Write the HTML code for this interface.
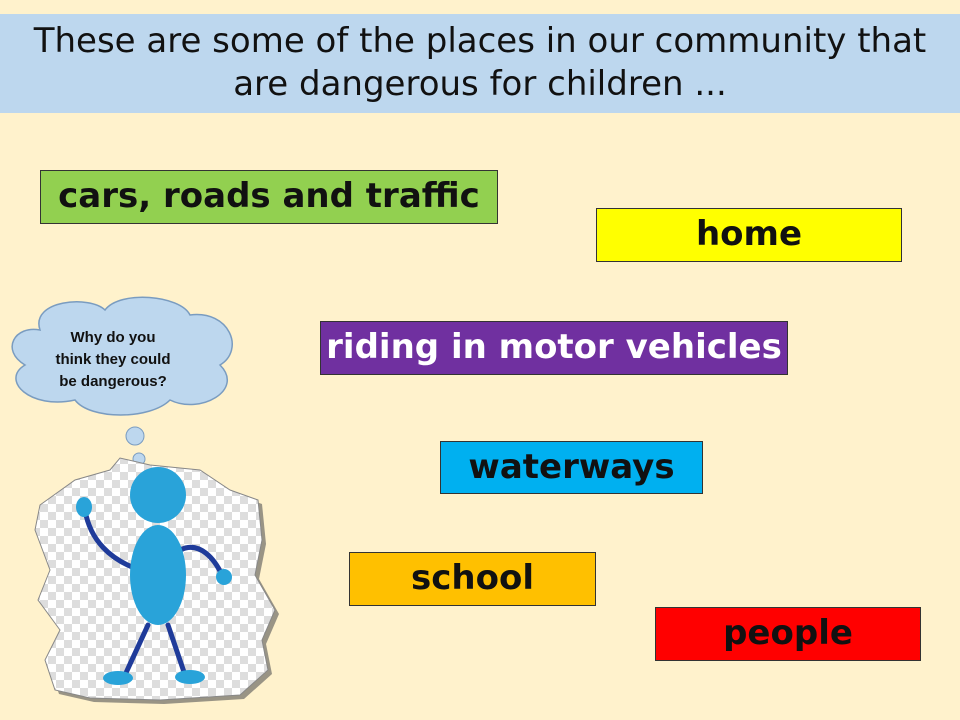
<!DOCTYPE html>
<html><head><meta charset="utf-8"><style>
body{margin:0;width:960px;height:720px;background:#fff2cc;position:relative;overflow:hidden;font-family:"DejaVu Sans","Liberation Sans",sans-serif;}
.title{position:absolute;left:0;top:14px;width:960px;height:99px;background:#bdd7ee;text-align:center;font-size:34px;line-height:43px;color:#111;padding-top:6px;box-sizing:border-box;}
.box{position:absolute;border:1px solid #333;box-sizing:border-box;text-align:center;font-weight:bold;font-size:34px;color:#111;}
</style></head><body>
<div class="title">These are some of the places in our community that<br>are dangerous for children ...</div>
<div class="box" style="left:40px;top:170px;width:458px;height:54px;line-height:51px;background:#92d050">cars, roads and traffic</div>
<div class="box" style="left:596px;top:208px;width:306px;height:54px;line-height:51px;background:#ffff00">home</div>
<div class="box" style="left:320px;top:321px;width:468px;height:54px;line-height:51px;background:#7030a0;color:#fff">riding in motor vehicles</div>
<div class="box" style="left:440px;top:441px;width:263px;height:53px;line-height:50px;background:#00b0f0">waterways</div>
<div class="box" style="left:349px;top:552px;width:247px;height:54px;line-height:51px;background:#ffc000">school</div>
<div class="box" style="left:655px;top:607px;width:266px;height:54px;line-height:51px;background:#ff0000">people</div>
<svg width="960" height="720" style="position:absolute;left:0;top:0">
<defs><pattern id="chk" width="16" height="16" patternUnits="userSpaceOnUse"><rect width="16" height="16" fill="#fff"/><rect width="8" height="8" fill="#ddd"/><rect x="8" y="8" width="8" height="8" fill="#ddd"/></pattern></defs>
<g>
<path d="M40,330 C30,300 90,295 105,310 C120,290 180,295 190,315 C230,310 245,350 220,365 C245,390 200,415 170,400 C150,420 90,420 75,400 C30,410 0,380 25,365 C0,350 15,325 40,330 Z" fill="#bdd7ee" stroke="#7a9cc0" stroke-width="1.5"/>
<circle cx="135" cy="436" r="9" fill="#bdd7ee" stroke="#7a9cc0"/>
<circle cx="139" cy="459" r="6" fill="#bdd7ee" stroke="#7a9cc0"/>
<circle cx="142" cy="476" r="3" fill="#bdd7ee" stroke="#7a9cc0"/>
<text x="113" y="342" text-anchor="middle" font-family="Liberation Sans, sans-serif" font-weight="bold" font-size="15" fill="#111">Why do you</text>
<text x="113" y="364" text-anchor="middle" font-family="Liberation Sans, sans-serif" font-weight="bold" font-size="15" fill="#111">think they could</text>
<text x="113" y="386" text-anchor="middle" font-family="Liberation Sans, sans-serif" font-weight="bold" font-size="15" fill="#111">be dangerous?</text>
</g>
<path d="M40,505 L75,480 L110,470 L120,458 L150,465 L200,470 L230,490 L258,500 L262,540 L255,575 L275,610 L262,640 L268,670 L240,695 L160,700 L90,698 L55,690 L45,660 L60,630 L38,600 L50,570 L35,530 Z" fill="#555" opacity="0.6" transform="translate(4,4)"/>
<path d="M40,505 L75,480 L110,470 L120,458 L150,465 L200,470 L230,490 L258,500 L262,540 L255,575 L275,610 L262,640 L268,670 L240,695 L160,700 L90,698 L55,690 L45,660 L60,630 L38,600 L50,570 L35,530 Z" fill="url(#chk)" stroke="#888"/>
<g fill="none" stroke="#1f3b9a" stroke-width="5" stroke-linecap="round">
<path d="M140,570 C110,560 90,540 85,510"/>
<path d="M180,550 C200,540 215,560 222,575"/>
<path d="M148,625 L125,675"/><path d="M168,625 L185,675"/>
</g>
<ellipse cx="158" cy="495" rx="28" ry="28" fill="#29a3d9"/>
<ellipse cx="158" cy="575" rx="28" ry="50" fill="#29a3d9"/>
<ellipse cx="84" cy="507" rx="8" ry="10" fill="#29a3d9"/>
<circle cx="224" cy="577" r="8" fill="#29a3d9"/>
<ellipse cx="118" cy="678" rx="15" ry="7" fill="#29a3d9"/>
<ellipse cx="190" cy="677" rx="15" ry="7" fill="#29a3d9"/>
</svg>
</body></html>
